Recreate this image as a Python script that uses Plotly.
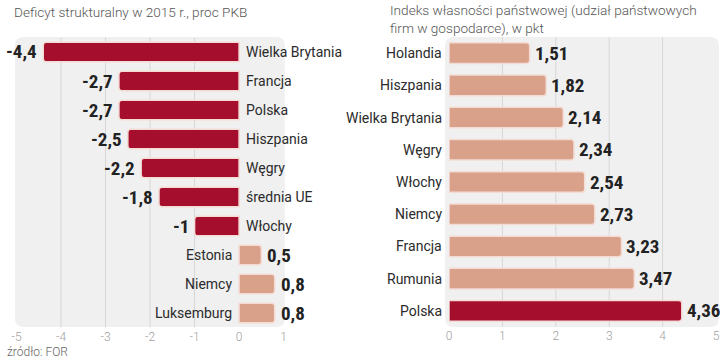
import plotly.graph_objects as go

# ---------------- data ----------------
left_title = "Deficyt strukturalny w 2015 r., proc PKB"
left_categories = ["Wielka Brytania", "Francja", "Polska", "Hiszpania", "Węgry",
                   "średnia UE", "Włochy", "Estonia", "Niemcy", "Luksemburg"]
left_values = [-4.4, -2.7, -2.7, -2.5, -2.2, -1.8, -1.0, 0.5, 0.8, 0.8]
left_ticks = [-5, -4, -3, -2, -1, 0, 1]

right_title = "Indeks własności państwowej (udział państwowych<br>firm w gospodarce), w pkt"
right_categories = ["Holandia", "Hiszpania", "Wielka Brytania", "Węgry", "Włochy",
                    "Niemcy", "Francja", "Rumunia", "Polska"]
right_values = [1.51, 1.82, 2.14, 2.34, 2.54, 2.73, 3.23, 3.47, 4.36]
right_highlight = "Polska"
right_ticks = [0, 1, 2, 3, 4, 5]

source_text = "źródło: FOR"

# ---------------- styles ----------------
W, H = 720, 363
DARK = "#A50E2D"
LIGHT = "#D9A08A"
EDGE = "#F4DCD5"
PANEL = "#F0F0F0"
GRID = "#D6D6D6"
CAT_FONT = dict(family="Roboto, 'Open Sans', sans-serif", size=14, color="#2b2b2b")
VAL_FONT = dict(family="'Liberation Sans Narrow', 'Roboto Condensed', 'DejaVu Sans Condensed', sans-serif",
                size=19, color="#222222", weight="bold")
TICK_FONT = dict(family="Roboto, sans-serif", size=12, color="#a0a0a0", weight=300)
TITLE_FONT = dict(family="Roboto, sans-serif", size=13.6, color="#555555", weight=300)


def fmt(v, dec):
    if dec == 0 and float(v).is_integer():
        s = str(int(v))
    else:
        s = f"{v:.{dec}f}"
    return s.replace(".", ",")


def px_x(p):
    return p / W


def px_y(p):
    return 1 - p / H


fig = go.Figure()

# left bars
fig.add_trace(go.Bar(
    x=left_values, y=left_categories, orientation="h",
    marker=dict(color=[DARK if v < 0 else LIGHT for v in left_values],
                line=dict(color=EDGE, width=1.5)),
    width=0.68, xaxis="x", yaxis="y", hoverinfo="skip", showlegend=False,
))
# right bars
fig.add_trace(go.Bar(
    x=right_values, y=right_categories, orientation="h",
    marker=dict(color=[DARK if c == right_highlight else LIGHT for c in right_categories],
                line=dict(color=EDGE, width=1.5)),
    width=0.64, xaxis="x2", yaxis="y2", hoverinfo="skip", showlegend=False,
))

annotations = []
# left labels
for c, v in zip(left_categories, left_values):
    neg = v < 0
    annotations.append(dict(x=0, y=c, xref="x", yref="y", text=c, showarrow=False,
                            xanchor="left" if neg else "right", xshift=5 if neg else -5,
                            font=CAT_FONT))
    dec = 0 if float(v).is_integer() and abs(v) == 1 else 1
    annotations.append(dict(x=v, y=c, xref="x", yref="y", text=fmt(v, dec), showarrow=False,
                            xanchor="right" if neg else "left", xshift=-4 if neg else 4,
                            font=VAL_FONT))
# right labels
for c, v in zip(right_categories, right_values):
    annotations.append(dict(x=0, y=c, xref="x2", yref="y2", text=c, showarrow=False,
                            xanchor="right", xshift=-5, font=CAT_FONT))
    annotations.append(dict(x=v, y=c, xref="x2", yref="y2", text=fmt(v, 2), showarrow=False,
                            xanchor="left", xshift=3, font=VAL_FONT))

# titles and source
annotations.append(dict(x=px_x(7), y=px_y(2), xref="paper", yref="paper", text=left_title,
                        showarrow=False, xanchor="left", yanchor="top", font=TITLE_FONT))
annotations.append(dict(x=px_x(387), y=px_y(0), xref="paper", yref="paper", text=right_title,
                        showarrow=False, xanchor="left", yanchor="top", align="left",
                        font=TITLE_FONT))
annotations.append(dict(x=px_x(0), y=px_y(343), xref="paper", yref="paper", text=source_text,
                        showarrow=False, xanchor="left", yanchor="top",
                        font=dict(family="Roboto, sans-serif", size=12, color="#666666", weight=300)))


def rounded(x0, y0, x1, y1, r):
    X0, X1 = px_x(x0), px_x(x1)
    Y0, Y1 = px_y(y0), px_y(y1)
    rx, ry = r / W, r / H
    return (f"M{X0+rx},{Y0} L{X1-rx},{Y0} Q{X1},{Y0} {X1},{Y0-ry} "
            f"L{X1},{Y1+ry} Q{X1},{Y1} {X1-rx},{Y1} "
            f"L{X0+rx},{Y1} Q{X0},{Y1} {X0},{Y1+ry} "
            f"L{X0},{Y0-ry} Q{X0},{Y0} {X0+rx},{Y0} Z")


shapes = [
    dict(type="path", xref="paper", yref="paper", path=rounded(10, 37, 283, 327, 9),
         fillcolor=PANEL, line=dict(width=0), layer="below"),
    dict(type="path", xref="paper", yref="paper", path=rounded(445, 37, 722, 327, 9),
         fillcolor=PANEL, line=dict(width=0), layer="below"),
]
for t in left_ticks[1:-1]:
    if t != 0:
        shapes.append(dict(type="line", xref="x", yref="y domain", x0=t, x1=t, y0=0, y1=1,
                           line=dict(color=GRID, width=1), layer="below"))
for t in right_ticks[1:-1]:
    shapes.append(dict(type="line", xref="x2", yref="y2 domain", x0=t, x1=t, y0=0, y1=1,
                       line=dict(color=GRID, width=1), layer="below"))

ydom1 = [px_y(327.5), px_y(37.5)]
ydom2 = [px_y(327), px_y(37)]

fig.update_layout(
    width=W, height=H,
    margin=dict(l=0, r=0, t=0, b=0),
    paper_bgcolor="white", plot_bgcolor="rgba(0,0,0,0)",
    barcornerradius=3,
    xaxis=dict(domain=[px_x(11.7), px_x(281.7)], range=[-5, 1], tickvals=left_ticks,
               ticktext=[str(t) for t in left_ticks], showgrid=False, zeroline=False,
               showline=False, tickfont=TICK_FONT, anchor="y", fixedrange=True),
    yaxis=dict(domain=ydom1, categoryorder="array", categoryarray=left_categories,
               autorange="reversed", showticklabels=False, showgrid=False, zeroline=False,
               anchor="x"),
    xaxis2=dict(domain=[px_x(449), px_x(719)], range=[0, 5], tickvals=right_ticks,
                ticktext=[str(t) for t in right_ticks], showgrid=False, zeroline=False,
                showline=False, tickfont=TICK_FONT, anchor="y2"),
    yaxis2=dict(domain=ydom2, categoryorder="array", categoryarray=right_categories,
                autorange="reversed", showticklabels=False, showgrid=False, zeroline=False,
                anchor="x2"),
    annotations=annotations,
    shapes=shapes,
)

fig.write_html("out.html", config={"displayModeBar": False},
               post_script="document.body.style.margin='0';document.body.style.overflow='hidden';")
